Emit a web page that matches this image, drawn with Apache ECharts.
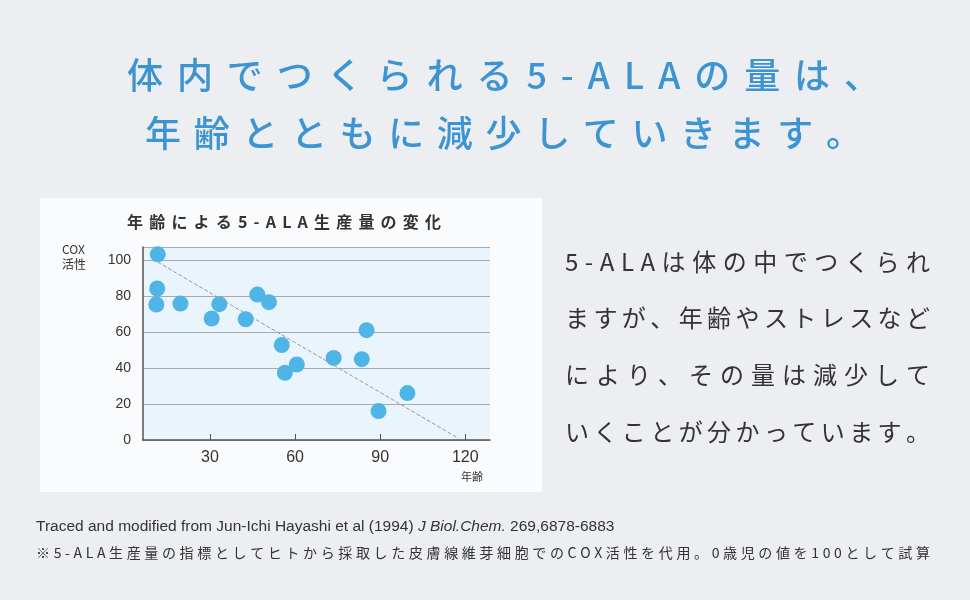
<!DOCTYPE html><html><head><meta charset="utf-8"><script src="https://cdn.jsdelivr.net/npm/echarts@6/dist/echarts.min.js"></script>
<style>body{margin:0;background:#eceef2}#c{width:970px;height:600px}</style></head><body><div id="c"></div><script>
const ages=[11.6,11.4,11.1,19.6,30.6,33.3,42.6,46.7,50.8,55.3,56.4,60.6,73.6,83.5,85.2,89.4,99.6];
const cox=[103.3,84.3,75.4,75.9,67.6,75.6,67.2,80.9,76.7,52.8,37.4,42.0,45.7,45.0,61.1,16.1,26.1];
const trend=[[11.6,99],[117.5,1]];
const xTicks=[30,60,90,120];
const F='"Noto Sans CJK JP","Noto Sans",sans-serif';
const cv=document.createElement('canvas').getContext('2d');
function spaced(str,x0,x1,y,font,fill){
  cv.font=font;const chars=[...str];const ws=chars.map(ch=>cv.measureText(ch).width);
  const nat=ws.reduce((a,b)=>a+b,0);const gap=(x1-x0-nat)/(chars.length-1);
  let x=x0;return chars.map((ch,i)=>{const g={type:'text',x:x,y:y,style:{text:ch,font:font,fill:fill,verticalAlign:'middle'}};x+=ws[i]+gap;return g;});
}
const blue='#3d94d3',dark='#333';
const g=[
{type:'rect',shape:{x:40,y:198,width:502,height:294},style:{fill:'#fafbfd'},z:-10},
...spaced('体内でつくられる5-ALAの量は、',127,880,75,'500 36px '+F,blue),
...spaced('年齢とともに減少していきます。',145,862,133,'500 36px '+F,blue),
...spaced('年齢による5-ALA生産量の変化',127,441,222,'bold 16px '+F,dark),
...spaced('5-ALAは体の中でつくられ',565,930,262,'24px '+F,dark),
...spaced('ますが、年齢やストレスなど',565,930,318,'24px '+F,dark),
...spaced('により、その量は減少して',565,930,375,'24px '+F,dark),
...spaced('いくことが分かっています。',565,930,432,'24px '+F,dark),
...spaced('※5-ALA生産量の指標としてヒトから採取した皮膚線維芽細胞でのCOX活性を代用。0歳児の値を100として試算',36,930,553,'14px '+F,dark),
{type:'text',x:62,y:257,style:{text:'COX\n活性',font:'12px '+F,fill:dark,lineHeight:15,verticalAlign:'middle'}},
{type:'text',x:472,y:477,style:{text:'年齢',font:'11px '+F,fill:dark,align:'center',verticalAlign:'middle'}},
{type:'text',x:36,y:527,style:{text:'{n|Traced and modified from Jun-Ichi Hayashi et al (1994) }{i|J Biol.Chem.}{n| 269,6878-6883}',verticalAlign:'middle',
 rich:{n:{font:'15.5px "Liberation Sans",sans-serif',fill:dark},i:{font:'italic 15.5px "Liberation Sans",sans-serif',fill:dark}}}}
];
const c=echarts.init(document.getElementById('c'));
c.setOption({backgroundColor:'#eceef2',animation:false,graphic:g,
grid:{left:143,right:480,top:247,bottom:160,show:true,backgroundColor:'#e9f4fc',borderWidth:0},
xAxis:{type:'value',min:6.4,max:128.7,axisLine:{lineStyle:{color:'#555',width:1.5}},
 axisTick:{show:true,customValues:xTicks,inside:true,length:6,lineStyle:{color:'#555'}},
 axisLabel:{customValues:xTicks,fontSize:16,color:dark,margin:10,fontFamily:'Liberation Sans'},splitLine:{show:false}},
yAxis:{type:'value',min:0,max:107.4,interval:20,axisLine:{show:true,lineStyle:{color:'#555',width:1.5}},axisTick:{show:false},
 axisLabel:{fontSize:14,color:dark,margin:12,fontFamily:'Liberation Sans',showMaxLabel:false},splitLine:{lineStyle:{color:'#aaa',width:1}}},
series:[
{type:'line',data:trend,symbol:'none',lineStyle:{type:'dashed',color:'#999',width:1},z:1},
{type:'scatter',data:ages.map((a,i)=>[a,cox[i]]),symbolSize:16,itemStyle:{color:'#4fb5e6',opacity:1},z:2}
]});
</script></body></html>
